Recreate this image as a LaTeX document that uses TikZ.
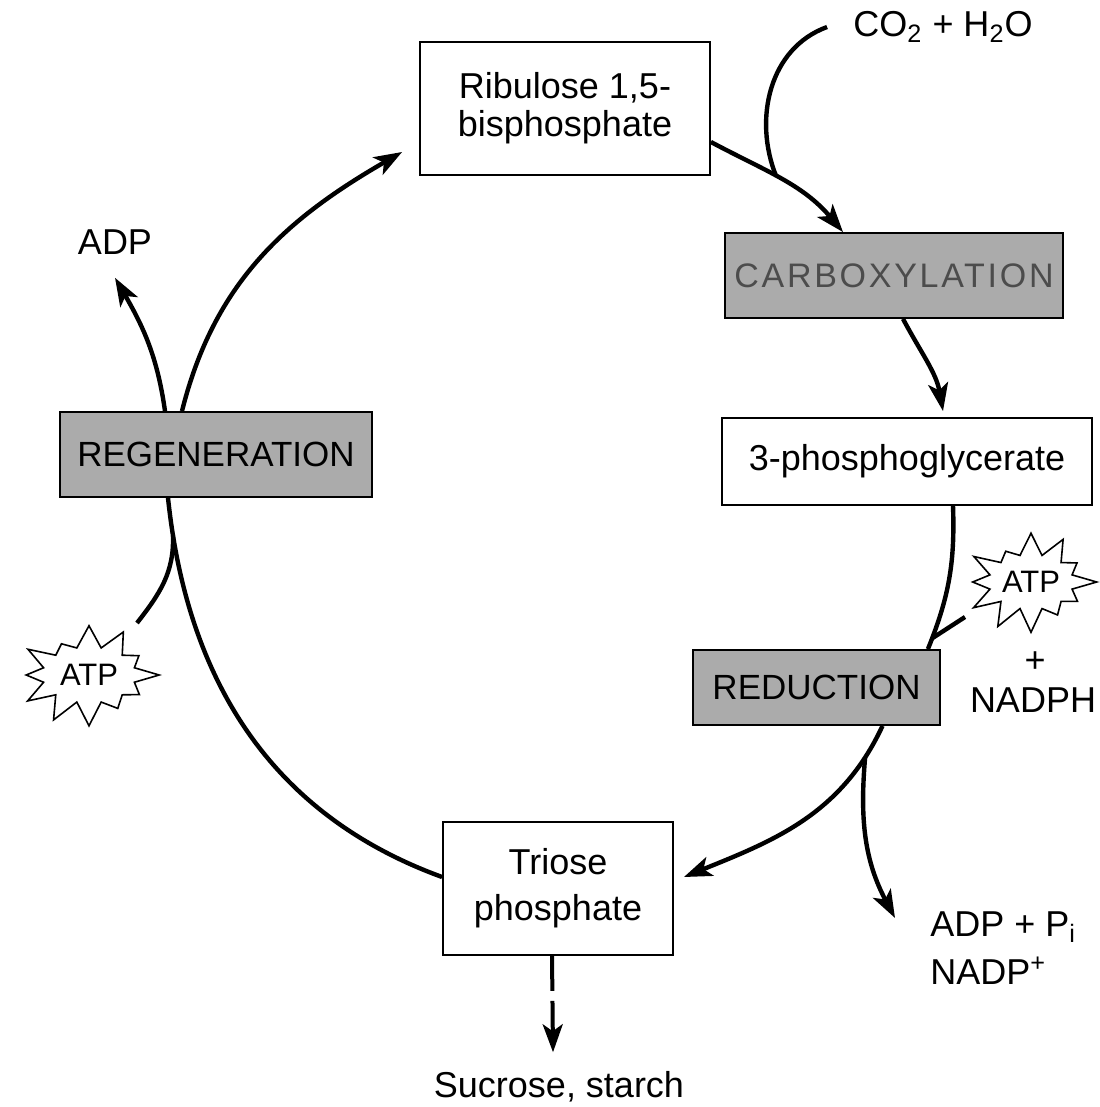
\documentclass[tikz,border=0pt]{standalone}
\usepackage{fontspec}
\setmainfont{Liberation Sans}
\newfontfamily\spacedfont[LetterSpace=8]{Liberation Sans}
\usetikzlibrary{positioning,arrows.meta,shapes.symbols}

\tikzset{
    box/.style={draw, line width=0.9pt, fill=white, inner sep=0pt, align=center,
        font=\fontsize{18}{19}\selectfont},
    stage/.style={box, fill=black!33, font=\fontsize{17.5}{19}\selectfont},
    cyc/.style={line width=2.2pt},
    tip/.style={-{Stealth[length=14pt,width=10pt,inset=3.5pt]}},
    burst/.style={starburst, draw, fill=white, line width=0.8pt, starburst points=12,
        starburst point height=12pt, random starburst=40, inner sep=0pt,
        font=\fontsize{15.5}{17}\selectfont},
    lbl/.style={inner sep=0pt, font=\fontsize{18}{24}\selectfont},
}

\begin{document}
\begin{tikzpicture}[x=0.5pt,y=0.5pt]
    \useasboundingbox (0,0) rectangle (1099,-1107);
    \node[box, minimum width=145pt, minimum height=66.5pt] (rubp) at (565,-108.5) {Ribulose 1,5-\\bisphosphate};
    \node[stage, minimum width=169pt, minimum height=42.5pt, text=black!70] (carbox) at (894,-275.5)
        {\spacedfont\fontsize{17}{18}\selectfont CARBOXYLATION};
    \node[box, minimum width=185pt, minimum height=43.5pt] (pga) at (907,-461.5) {3-phosphoglycerate};
    \node[stage, minimum width=123.5pt, minimum height=37.5pt] (red) at (816.5,-687.5) {REDUCTION};
    \node[box, minimum width=115pt, minimum height=66.5pt] (triose) at (558,-888.5) {Triose\\[4pt]phosphate};
    \node[stage, minimum width=156pt, minimum height=42.5pt] (regen) at (216,-454.5) {REGENERATION};

    \node[burst, minimum width=66.5pt, minimum height=51.5pt] (atpR) at (1031,-582) {ATP};
    \node[burst, minimum width=71pt, minimum height=52pt] (atpL) at (89,-675) {ATP};

    \node[lbl] (co2) at (943,-27) {CO\textsubscript{2} + H\textsubscript{2}O};
    \node[lbl] (adpL) at (115,-242) {ADP};
    \node[lbl] (plus) at (1035,-662) {+};
    \node[lbl] (nadph) at (1033,-700) {NADPH};
    \node[lbl, align=left, anchor=west] (adpout) at (930,-948) {ADP + P\textsubscript{i}\\NADP\textsuperscript{+}};
    \node[lbl] (sucr) at (559,-1087) {Sucrose, starch};

    % the cycle
    \draw[cyc,tip] ([xshift=-17pt]regen.north) to[out=76,in=210] ([xshift=-8.5pt,yshift=-21.75pt]rubp.west);
    \draw[cyc,tip] ([yshift=-16.75pt]rubp.east) to[out=-28,in=130] coordinate[pos=0.45] (j1) ([xshift=-25.5pt]carbox.north);
    \draw[cyc] ([xshift=-13pt]co2.west) to[out=200,in=112] (j1);
    \draw[cyc,tip] ([xshift=4.5pt]carbox.south) to[out=-62,in=100] ([xshift=18pt,yshift=3pt]pga.north);
    \draw[cyc] ([xshift=23pt]pga.south) to[out=-88,in=68] coordinate[pos=0.93] (j2) ([xshift=-6.5pt]red.north east);
    \draw[cyc] ([xshift=-33pt,yshift=-17.5pt]atpR.center) -- (j2);
    \draw[cyc,tip] ([xshift=33pt]red.south) to[out=245,in=22] coordinate[pos=0.13] (j3) ([xshift=5pt,yshift=5.75pt]triose.east);
    \draw[cyc,tip] (j3) to[out=-95,in=118] ([xshift=-17.5pt,yshift=15pt]adpout.west);
    \draw[cyc] ([yshift=5.75pt]triose.west) to[out=160,in=-84] coordinate[pos=0.93] (j4) ([xshift=-24pt]regen.south);
    \draw[cyc] ([xshift=24pt,yshift=26pt]atpL.center) to[out=52,in=-88] (j4);
    \draw[cyc,tip] ([xshift=-25.5pt]regen.north) to[out=98,in=-60] ([yshift=-11.5pt]adpL.south);
    \draw[line width=2pt, dash pattern=on 17.5pt off 5pt on 60pt, tip] ([xshift=-3pt]triose.south) -- ([xshift=-3pt,yshift=9.5pt]sucr.north);
\end{tikzpicture}
\end{document}
